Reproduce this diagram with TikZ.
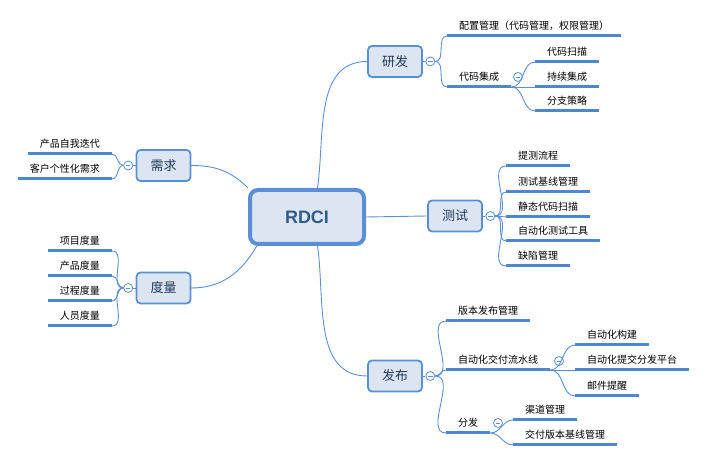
\documentclass[tikz,border=0pt]{standalone}
\usepackage{fontspec}
\newfontfamily\cjk{Noto Sans CJK SC}
\newfontfamily\latin{Liberation Sans}
\usepackage{tikz}
\usetikzlibrary{positioning}
\definecolor{boxline}{HTML}{5A8FD6}
\definecolor{boxfill}{HTML}{DCE6F2}
\definecolor{uline}{HTML}{4E86CF}
\definecolor{boxtext}{HTML}{23395B}
\definecolor{roottext}{HTML}{32588F}

\begin{document}
\begin{tikzpicture}[x=1pt, y=1pt,
	root/.style = {draw = boxline, fill = boxfill, line width = 4pt, rounded corners = 8pt, minimum width = 114pt, minimum height = 54pt, text = roottext, font = \latin\bfseries\fontsize{18}{20}\selectfont},
	topic/.style = {draw = boxline, fill = boxfill, line width = 1.8pt, rounded corners = 4pt, minimum width = 54pt, minimum height = 31pt, text = boxtext, font = \cjk\fontsize{13}{15}\selectfont},
	fold/.style = {circle, draw = boxline, fill = white, line width = 0.8pt, minimum size = 9pt, inner sep = 0pt,
		path picture = {\draw[boxline, line width = 0.7pt] ([xshift=-2.2pt]path picture bounding box.center) -- ([xshift=2.2pt]path picture bounding box.center);}},
	ubar/.style = {draw = uline, line width = 3pt},
	leaf/.style = {inner xsep = 12pt, inner ysep = 4pt, text height = 8pt, text depth = 2pt, font = \cjk\fontsize{10}{12}\selectfont,
		append after command = {(\tikzlastnode.south west) edge[ubar] (\tikzlastnode.south east)}},
	rleaf/.style = {leaf, anchor = south west},
	lleaf/.style = {leaf, anchor = south east},
	link/.style = {draw = boxline, line width = 0.9pt}]
	\useasboundingbox (0,0) rectangle (708,462);

\node[root] (rd) at (307,245) {RDCI};

	% 研发
\node[topic] (yf) at (395,400.5) {研发};
\node[fold, right = 2.5pt of yf] (yfc) {};
\node[rleaf] (pz) at (447,426) {配置管理（代码管理，权限管理）};
\node[rleaf] (jc) at (447,375) {代码集成};
\node[fold] (jcc) at (518,385) {};
\node[rleaf] (sm) at (535,400) {代码扫描};
\node[rleaf] (cx) at (535,375) {持续集成};
\node[rleaf] (fz) at (535,351) {分支策略};
	\path[link] (yf.east) -- (yfc.west);
	\path[link] (yfc.east) to[out = 0, in = 180] (pz.south west);
	\path[link] (yfc.east) to[out = 0, in = 180] (jc.south west);
	\path[link] (jc.south east) to[out = 0, in = 180] (sm.south west);
	\path[link] (jc.south east) -- (cx.south west);
	\path[link] (jc.south east) to[out = 0, in = 180] (fz.south west);

	% 测试
\node[topic] (cs) at (455,246) {测试};
\node[fold, right = 2.5pt of cs] (csc) {};
\node[rleaf] (tc) at (506,296) {提测流程};
\node[rleaf] (jx) at (506,270) {测试基线管理};
\node[rleaf] (jt) at (506,245) {静态代码扫描};
\node[rleaf] (gj) at (506,221) {自动化测试工具};
\node[rleaf] (qx) at (506,196) {缺陷管理};
	\path[link] (cs.east) -- (csc.west);
	\path[link] (csc.east) to[out = 0, in = 180] (tc.south west);
	\path[link] (csc.east) to[out = 0, in = 180] (jx.south west);
	\path[link] (csc.east) -- (jt.south west);
	\path[link] (csc.east) to[out = 0, in = 180] (gj.south west);
	\path[link] (csc.east) to[out = 0, in = 180] (qx.south west);

	% 发布
\node[topic] (fb) at (395,86) {发布};
\node[fold, right = 2.5pt of fb] (fbc) {};
\node[rleaf] (bb) at (446,141) {版本发布管理};
\node[rleaf] (lsx) at (446,92) {自动化交付流水线};
\node[fold] (lsxc) at (559,101) {};
\node[rleaf] (gou) at (575,117) {自动化构建};
\node[rleaf] (pt) at (575,92) {自动化提交分发平台};
\node[rleaf] (yj) at (575,66) {邮件提醒};
\node[rleaf] (ff) at (446,29) {分发};
\node[fold] (ffc) at (498,39) {};
\node[rleaf] (qd) at (513,42) {渠道管理};
\node[rleaf] (jf) at (513,17) {交付版本基线管理};
	\path[link] (fb.east) -- (fbc.west);
	\path[link] (fbc.east) to[out = 0, in = 180] (bb.south west);
	\path[link] (fbc.east) to[out = 0, in = 180] (lsx.south west);
	\path[link] (fbc.east) to[out = 0, in = 180] (ff.south west);
	\path[link] (lsx.south east) to[out = 0, in = 180] (gou.south west);
	\path[link] (lsx.south east) -- (pt.south west);
	\path[link] (lsx.south east) to[out = 0, in = 180] (yj.south west);
	\path[link] (ff.south east) to[out = 0, in = 180] (qd.south west);
	\path[link] (ff.south east) to[out = 0, in = 180] (jf.south west);

	% 需求
\node[topic] (xq) at (163.5,296.5) {需求};
\node[fold, left = 2.5pt of xq] (xqc) {};
\node[lleaf] (dd) at (112,308) {产品自我迭代};
\node[lleaf] (gx) at (112,283) {客户个性化需求};
	\path[link] (xq.west) -- (xqc.east);
	\path[link] (xqc.west) to[out = 180, in = 0] (dd.south east);
	\path[link] (xqc.west) to[out = 180, in = 0] (gx.south east);

	% 度量
\node[topic] (dl) at (163.5,174) {度量};
\node[fold, left = 2.5pt of dl] (dlc) {};
\node[lleaf] (xm) at (112,211) {项目度量};
\node[lleaf] (cp) at (112,186) {产品度量};
\node[lleaf] (gc) at (112,161) {过程度量};
\node[lleaf] (ry) at (112,136) {人员度量};
	\path[link] (dl.west) -- (dlc.east);
	\path[link] (dlc.west) to[out = 180, in = 0] (xm.south east);
	\path[link] (dlc.west) to[out = 180, in = 0] (cp.south east);
	\path[link] (dlc.west) to[out = 180, in = 0] (gc.south east);
	\path[link] (dlc.west) to[out = 180, in = 0] (ry.south east);

	% RDCI to topics
	\path[link] (rd.70) to[out = 82, in = 180] (yf.west);
	\path[link] (rd.east) -- (cs.west);
	\path[link] (rd.-70) to[out = -82, in = 180] (fb.west);
	\path[link] (xq.east) to[out = 0, in = 135] (rd.north west);
	\path[link] (rd.-150) to[out = -120, in = 0] (dl.east);
	\end{tikzpicture}
\end{document}
